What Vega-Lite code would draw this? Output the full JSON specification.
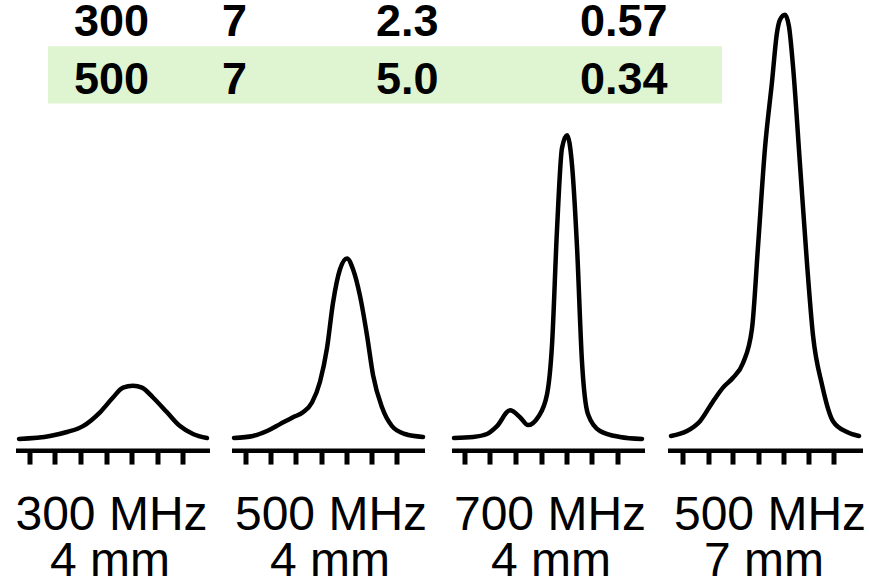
{
  "$schema": "https://vega.github.io/schema/vega-lite/v6.json",
  "width": 869,
  "height": 586,
  "autosize": {"type": "fit", "contains": "padding"},
  "padding": 0,
  "background": "white",
  "config": {"view": {"stroke": null}},
  "datasets": {
    "curves": [
      {"panel": "p1", "x": 0.76, "y": 0},
      {"panel": "p1", "x": 2.0, "y": 0.75},
      {"panel": "p1", "x": 2.68, "y": 1.75},
      {"panel": "p1", "x": 3.32, "y": 3.25},
      {"panel": "p1", "x": 4.0, "y": 6.75},
      {"panel": "p1", "x": 4.52, "y": 10.5},
      {"panel": "p1", "x": 4.92, "y": 13},
      {"panel": "p1", "x": 5.32, "y": 13.5},
      {"panel": "p1", "x": 5.68, "y": 13},
      {"panel": "p1", "x": 6.12, "y": 10.5},
      {"panel": "p1", "x": 6.68, "y": 6.75},
      {"panel": "p1", "x": 7.2, "y": 3.25},
      {"panel": "p1", "x": 7.72, "y": 1.25},
      {"panel": "p1", "x": 8.28, "y": 0.25},
      {"panel": "p2", "x": 9.36, "y": 0.25},
      {"panel": "p2", "x": 10.12, "y": 0.75},
      {"panel": "p2", "x": 10.68, "y": 2},
      {"panel": "p2", "x": 11.2, "y": 3.75},
      {"panel": "p2", "x": 11.72, "y": 5.5},
      {"panel": "p2", "x": 12.12, "y": 6.75},
      {"panel": "p2", "x": 12.48, "y": 9.25},
      {"panel": "p2", "x": 12.8, "y": 14.5},
      {"panel": "p2", "x": 13.08, "y": 23},
      {"panel": "p2", "x": 13.32, "y": 34.5},
      {"panel": "p2", "x": 13.6, "y": 43},
      {"panel": "p2", "x": 13.88, "y": 45.75},
      {"panel": "p2", "x": 14.12, "y": 43},
      {"panel": "p2", "x": 14.4, "y": 36.25},
      {"panel": "p2", "x": 14.68, "y": 26.25},
      {"panel": "p2", "x": 14.92, "y": 16.25},
      {"panel": "p2", "x": 15.28, "y": 8},
      {"panel": "p2", "x": 15.68, "y": 3.25},
      {"panel": "p2", "x": 16.2, "y": 1.25},
      {"panel": "p2", "x": 16.92, "y": 0.5},
      {"panel": "p3", "x": 18.16, "y": 0.25},
      {"panel": "p3", "x": 18.92, "y": 0.5},
      {"panel": "p3", "x": 19.48, "y": 1.25},
      {"panel": "p3", "x": 19.88, "y": 3.25},
      {"panel": "p3", "x": 20.4, "y": 7.25},
      {"panel": "p3", "x": 20.8, "y": 5.5},
      {"panel": "p3", "x": 21.12, "y": 3.5},
      {"panel": "p3", "x": 21.52, "y": 5.5},
      {"panel": "p3", "x": 21.88, "y": 11.25},
      {"panel": "p3", "x": 22.08, "y": 23.75},
      {"panel": "p3", "x": 22.28, "y": 53},
      {"panel": "p3", "x": 22.48, "y": 73.75},
      {"panel": "p3", "x": 22.68, "y": 77},
      {"panel": "p3", "x": 22.88, "y": 69.5},
      {"panel": "p3", "x": 23.08, "y": 48.75},
      {"panel": "p3", "x": 23.28, "y": 19.5},
      {"panel": "p3", "x": 23.52, "y": 6.25},
      {"panel": "p3", "x": 24.0, "y": 2},
      {"panel": "p3", "x": 24.8, "y": 0.5},
      {"panel": "p3", "x": 25.68, "y": 0},
      {"panel": "p4", "x": 26.84, "y": 0.75},
      {"panel": "p4", "x": 27.48, "y": 2},
      {"panel": "p4", "x": 28.0, "y": 4.5},
      {"panel": "p4", "x": 28.52, "y": 9.5},
      {"panel": "p4", "x": 28.92, "y": 13},
      {"panel": "p4", "x": 29.32, "y": 15.5},
      {"panel": "p4", "x": 29.72, "y": 19.25},
      {"panel": "p4", "x": 30.08, "y": 28},
      {"panel": "p4", "x": 30.32, "y": 48.75},
      {"panel": "p4", "x": 30.6, "y": 73.75},
      {"panel": "p4", "x": 30.88, "y": 90.5},
      {"panel": "p4", "x": 31.08, "y": 103},
      {"panel": "p4", "x": 31.2, "y": 106.25},
      {"panel": "p4", "x": 31.4, "y": 107.5},
      {"panel": "p4", "x": 31.56, "y": 104.5},
      {"panel": "p4", "x": 31.72, "y": 94.5},
      {"panel": "p4", "x": 32.0, "y": 69.5},
      {"panel": "p4", "x": 32.28, "y": 44.5},
      {"panel": "p4", "x": 32.52, "y": 26.25},
      {"panel": "p4", "x": 32.88, "y": 13.75},
      {"panel": "p4", "x": 33.32, "y": 4.5},
      {"panel": "p4", "x": 33.88, "y": 1.75},
      {"panel": "p4", "x": 34.36, "y": 0.75}
    ],
    "axes": [
      {"panel": "p1", "x": 0.64, "x2": 8.4, "y": -3},
      {"panel": "p2", "x": 9.28, "x2": 17.0, "y": -3},
      {"panel": "p3", "x": 18.08, "x2": 25.8, "y": -3},
      {"panel": "p4", "x": 26.72, "x2": 34.52, "y": -3}
    ],
    "ticks": [
      {"x": 1.2}, {"x": 2.2}, {"x": 3.24}, {"x": 4.28}, {"x": 5.28}, {"x": 6.32}, {"x": 7.32},
      {"x": 9.84}, {"x": 10.84}, {"x": 11.84}, {"x": 12.88}, {"x": 13.88}, {"x": 14.88}, {"x": 15.88},
      {"x": 18.6}, {"x": 19.6}, {"x": 20.64}, {"x": 21.68}, {"x": 22.68}, {"x": 23.68}, {"x": 24.72},
      {"x": 27.32}, {"x": 28.36}, {"x": 29.32}, {"x": 30.36}, {"x": 31.36}, {"x": 32.36}, {"x": 33.36}
    ],
    "labels": [
      {"x": 4.46, "y": -23, "text": "300 MHz"},
      {"x": 13.24, "y": -23, "text": "500 MHz"},
      {"x": 22.0, "y": -23, "text": "700 MHz"},
      {"x": 30.8, "y": -23, "text": "500 MHz"},
      {"x": 4.4, "y": -34.75, "text": "4 mm"},
      {"x": 13.2, "y": -34.75, "text": "4 mm"},
      {"x": 22.04, "y": -34.75, "text": "4 mm"},
      {"x": 30.56, "y": -34.75, "text": "7 mm"}
    ],
    "table": [
      {"x": 2.96, "y": 102.25, "text": "300"},
      {"x": 8.88, "y": 102.25, "text": "7"},
      {"x": 15.04, "y": 102.25, "text": "2.3"},
      {"x": 23.2, "y": 102.25, "text": "0.57"},
      {"x": 2.96, "y": 87.5, "text": "500"},
      {"x": 8.88, "y": 87.5, "text": "7"},
      {"x": 15.04, "y": 87.5, "text": "5.0"},
      {"x": 23.2, "y": 87.5, "text": "0.34"}
    ],
    "band": [
      {"x": 1.92, "x2": 28.88, "y": 99.5, "y2": 85.0}
    ]
  },
  "layer": [
    {
      "data": {"name": "band"},
      "mark": {"type": "rect", "color": "#dff4d1"},
      "encoding": {
        "x": {"field": "x", "type": "quantitative", "scale": {"domain": [0, 34.76], "nice": false, "zero": false}, "axis": null},
        "x2": {"field": "x2"},
        "y": {"field": "y", "type": "quantitative", "scale": {"domain": [-35.25, 111.25], "nice": false, "zero": false}, "axis": null},
        "y2": {"field": "y2"}
      }
    },
    {
      "data": {"name": "table"},
      "mark": {"type": "text", "align": "left", "baseline": "alphabetic", "font": "Liberation Sans", "fontWeight": "bold", "fontSize": 45, "color": "black"},
      "encoding": {
        "x": {"field": "x", "type": "quantitative"},
        "y": {"field": "y", "type": "quantitative"},
        "text": {"field": "text"}
      }
    },
    {
      "data": {"name": "curves"},
      "mark": {"type": "line", "color": "black", "strokeWidth": 4.5, "interpolate": "monotone", "strokeJoin": "round", "strokeCap": "round"},
      "encoding": {
        "x": {"field": "x", "type": "quantitative"},
        "y": {"field": "y", "type": "quantitative"},
        "detail": {"field": "panel"}
      }
    },
    {
      "data": {"name": "axes"},
      "mark": {"type": "rule", "color": "black", "strokeWidth": 4.5},
      "encoding": {
        "x": {"field": "x", "type": "quantitative"},
        "x2": {"field": "x2"},
        "y": {"field": "y", "type": "quantitative"}
      }
    },
    {
      "data": {"name": "ticks"},
      "mark": {"type": "rule", "color": "black", "strokeWidth": 5},
      "encoding": {
        "x": {"field": "x", "type": "quantitative"},
        "y": {"datum": -3, "type": "quantitative"},
        "y2": {"datum": -6.5}
      }
    },
    {
      "data": {"name": "labels"},
      "mark": {"type": "text", "align": "center", "baseline": "alphabetic", "font": "Liberation Sans", "fontSize": 48, "color": "black"},
      "encoding": {
        "x": {"field": "x", "type": "quantitative"},
        "y": {"field": "y", "type": "quantitative"},
        "text": {"field": "text"}
      }
    }
  ]
}
